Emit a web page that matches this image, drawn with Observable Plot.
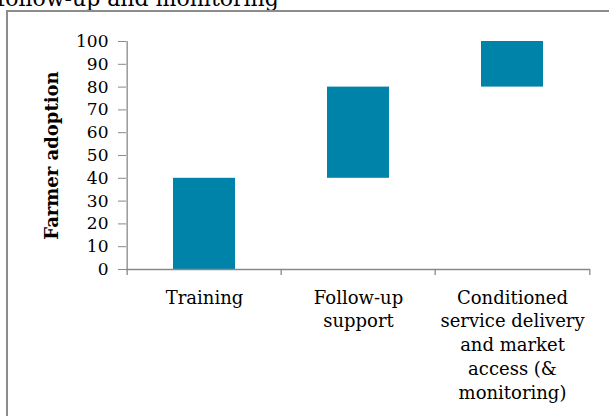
<!DOCTYPE html>
<html><head><meta charset="utf-8">
<script src="https://cdn.jsdelivr.net/npm/d3@7"></script>
<script src="https://cdn.jsdelivr.net/npm/@observablehq/plot@0.6"></script>
<style>
body{margin:0;background:#fff;width:609px;height:416px;overflow:hidden;position:relative;font-family:"DejaVu Serif",serif}
#title{position:absolute;left:-3px;top:-12px;font-size:22px;line-height:22px;white-space:nowrap;color:#000}
#box{position:absolute;left:6px;top:10px;width:700px;height:500px;border:2px solid #8c8c8c;pointer-events:none}
#chart{position:absolute;left:0;top:0}
</style></head><body>
<div id="title">follow-up and monitoring</div>
<div id="chart"></div>
<div id="box"></div>
<script>
const categories = ["Training", "Follow-up support", "Conditioned service delivery and market access (& monitoring)"];
const labels = ["Training", "Follow-up\nsupport", "Conditioned\nservice delivery\nand market\naccess (&\nmonitoring)"];
const lows = [0, 40, 80];
const highs = [40, 80, 100];
const yTicks = [0, 10, 20, 30, 40, 50, 60, 70, 80, 90, 100];
const yTitle = "Farmer adoption";

const rows = categories.map((c, i) => ({category: c, low: lows[i], high: highs[i]}));
const labelOf = new Map(categories.map((c, i) => [c, labels[i]]));
const W = 609, H = 416, mL = 126, mR = 19, mT = 41, mB = 147;
const step = (W - mL - mR) / categories.length;
const axisColor = "#898989";

const plot = Plot.plot({
  width: W, height: H, marginLeft: mL, marginRight: mR, marginTop: mT, marginBottom: mB,
  style: {fontFamily: "DejaVu Serif", background: "transparent", color: "#000", overflow: "visible"},
  x: {domain: categories, paddingInner: 0.6, paddingOuter: 0.3, axis: null},
  y: {domain: [0, 100], axis: null},
  marks: [
    Plot.barY(rows, {x: "category", y1: "low", y2: "high", fill: "#0083A8"}),
    Plot.ruleY([0], {stroke: axisColor, strokeWidth: 1.3}),
    Plot.ruleX([categories[0]], {y1: 0, y2: 100, dx: -step / 2, stroke: axisColor, strokeWidth: 1.3}),
    Plot.ruleX(categories, {y1: 0, y2: 0, dx: -step / 2, insetBottom: -6, stroke: axisColor, strokeWidth: 1.3}),
    Plot.ruleX([categories[categories.length - 1]], {y1: 0, y2: 0, dx: step / 2, insetBottom: -6, stroke: axisColor, strokeWidth: 1.3}),
    Plot.axisY({ticks: yTicks, tickSize: 8, tickPadding: 10, fontSize: 17, stroke: axisColor, fill: "#000", label: null}),
    Plot.axisX({tickSize: 0, tickPadding: 17, fontSize: 18, lineHeight: 1.33, tickFormat: d => labelOf.get(d), fill: "#000", label: null}),
    Plot.text([yTitle], {frameAnchor: "left", textAnchor: "middle", lineAnchor: "middle", rotate: -90, dx: -74, fontSize: 18, fontWeight: "bold", fill: "#000"})
  ]
});
document.getElementById("chart").appendChild(plot);
</script>
</body></html>
